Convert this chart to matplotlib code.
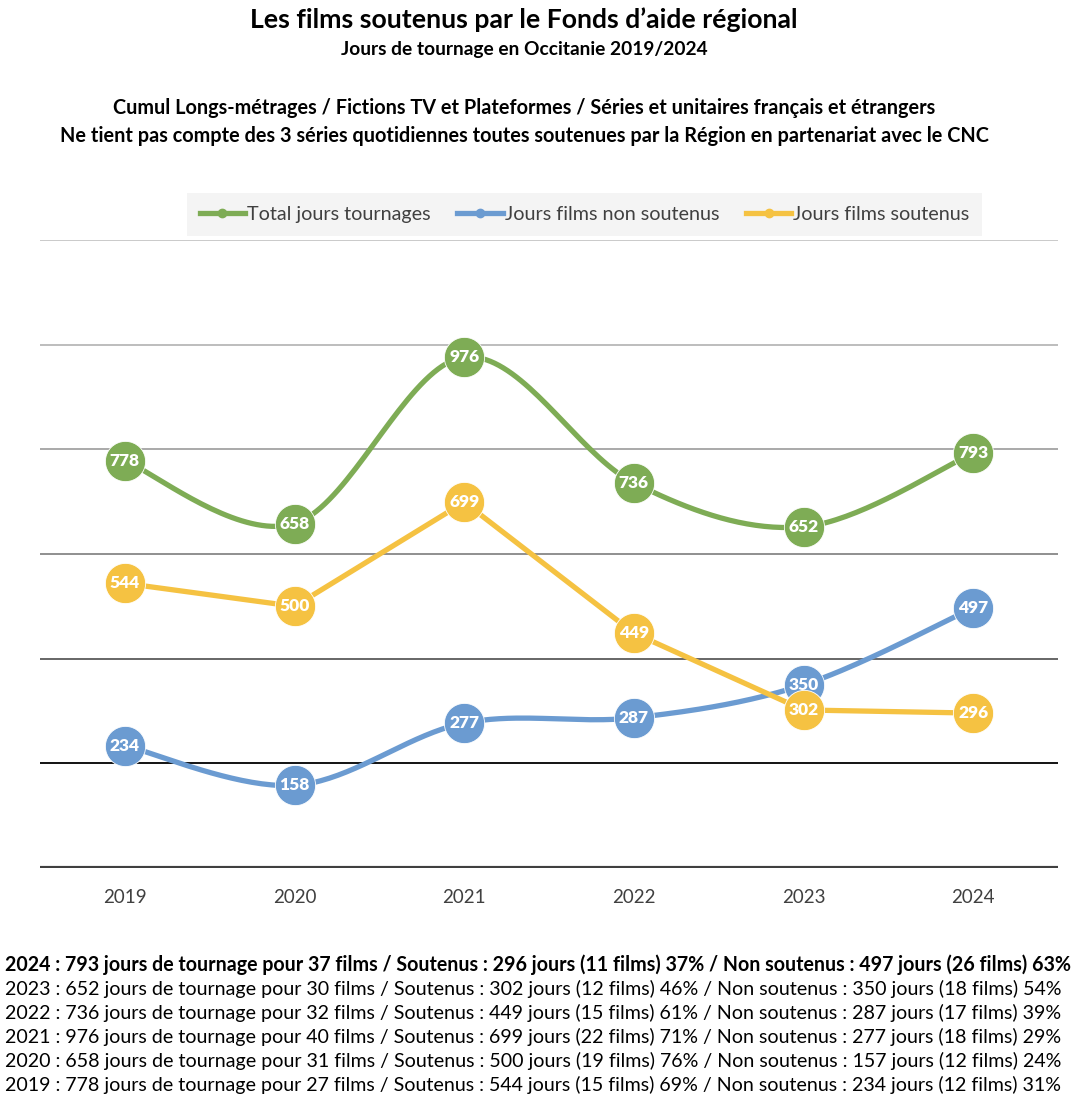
import numpy as np
import matplotlib
matplotlib.use("Agg")
import matplotlib.pyplot as plt
from matplotlib.lines import Line2D

plt.rcParams['font.family'] = ['Lato', 'DejaVu Sans']

years = ['2019', '2020', '2021', '2022', '2023', '2024']
total_jours = [778, 658, 976, 736, 652, 793]
non_soutenus = [234, 158, 277, 287, 350, 497]
soutenus = [544, 500, 699, 449, 302, 296]

titre = "Les films soutenus par le Fonds d\u2019aide régional"
sous_titre = "Jours de tournage en Occitanie 2019/2024"
note1 = "Cumul Longs-métrages / Fictions TV et Plateformes / Séries et unitaires français et étrangers"
note2 = "Ne tient pas compte des 3 séries quotidiennes toutes soutenues par la Région en partenariat avec le CNC"

lignes_bas = [
    "2024 : 793 jours de tournage pour 37 films / Soutenus : 296 jours (11 films) 37% / Non soutenus : 497 jours (26 films) 63%",
    "2023 : 652 jours de tournage pour 30 films / Soutenus : 302 jours (12 films) 46% / Non soutenus : 350 jours (18 films) 54%",
    "2022 : 736 jours de tournage pour 32 films / Soutenus : 449 jours (15 films) 61% / Non soutenus : 287 jours (17 films) 39%",
    "2021 : 976 jours de tournage pour 40 films / Soutenus : 699 jours (22 films) 71% / Non soutenus : 277 jours (18 films) 29%",
    "2020 : 658 jours de tournage pour 31 films / Soutenus : 500 jours (19 films) 76% / Non soutenus : 157 jours (12 films) 24%",
    "2019 : 778 jours de tournage pour 27 films / Soutenus : 544 jours (15 films) 69% / Non soutenus : 234 jours (12 films) 31%",
]

vert = '#7eac55'
bleu = '#6b9bd1'
jaune = '#f5c242'


def lisser(xs, ys, n=40):
    # courbe lissée façon Excel (Catmull-Rom en Bezier)
    pts = np.column_stack([xs, ys]).astype(float)
    p = np.vstack([pts[0], pts, pts[-1]])
    out = []
    t = np.linspace(0, 1, n)[:, None]
    for i in range(1, len(p) - 2):
        p0, p1, p2, p3 = p[i - 1], p[i], p[i + 1], p[i + 2]
        c1 = p1 + (p2 - p0) / 6
        c2 = p2 - (p3 - p1) / 6
        seg = ((1 - t) ** 3) * p1 + 3 * ((1 - t) ** 2) * t * c1 + 3 * (1 - t) * t ** 2 * c2 + t ** 3 * p2
        out.append(seg if i == 1 else seg[1:])
    out = np.vstack(out)
    return out[:, 0], out[:, 1]


W, H = 1086, 1110
fig = plt.figure(figsize=(W / 100, H / 100), dpi=100)
ax = fig.add_axes([40 / W, (H - 868) / H, 1018 / W, 628 / H])

x = np.arange(len(years))

# grille de plus en plus foncée vers le bas
couleurs_grille = {200: '#000000', 400: '#5a5a5a', 600: '#878787', 800: '#a3a3a3', 1000: '#b7b7b7', 1200: '#c6c6c6'}
for v, c in couleurs_grille.items():
    ax.axhline(v, color=c, lw=1.3, zorder=1)
ax.axhline(0, color='#404040', lw=3.0, zorder=2)

series = [(total_jours, vert, True, 'Total jours tournages'),
          (non_soutenus, bleu, True, 'Jours films non soutenus'),
          (soutenus, jaune, False, 'Jours films soutenus')]

z = 3
for vals, col, lisse, nom in series:
    if lisse:
        sx, sy = lisser(x, vals)
    else:
        sx, sy = x, vals
    ax.plot(sx, sy, color=col, lw=3.8, solid_capstyle='round', zorder=z)
    ax.plot(x, vals, 'o', color=col, ms=29, mec='white', mew=0.6, zorder=z + 1)
    for xi, v in zip(x, vals):
        ax.text(xi, v, str(v), color='white', fontsize=12.5, fontweight='heavy',
                ha='center', va='center', zorder=z + 2)
    z += 3

ax.set_xlim(-0.5, 5.5)
ax.set_ylim(0, 1200)
ax.set_xticks(x)
ax.set_xticklabels(years, fontsize=13.5, color='#404040')
ax.tick_params(axis='x', length=0, pad=15)
ax.set_yticks([])
for s in ax.spines.values():
    s.set_visible(False)

poignees = [Line2D([0], [0], color=c, lw=3.8, marker='o', ms=6) for _, c, _, _ in series]
leg = ax.legend(poignees, [s[3] for s in series], loc='lower center', ncol=3,
                bbox_to_anchor=(0.535, 1.0), frameon=True, fancybox=False,
                fontsize=14.2, handlelength=2.3, handletextpad=0.1, columnspacing=1.35,
                borderpad=0.65, labelcolor='#404040', borderaxespad=0.2)
leg.get_frame().set_facecolor('#f2f2f2')
leg.get_frame().set_edgecolor('none')

fig.text(524 / W, 1 - 20 / H, titre, ha='center', va='center', fontsize=19.2, fontweight='bold')
fig.text(524 / W, 1 - 50 / H, sous_titre, ha='center', va='center', fontsize=13.8, fontweight='bold')
fig.text(524 / W, 1 - 108 / H, note1, ha='center', va='center', fontsize=14.3, fontweight='bold')
fig.text(524 / W, 1 - 136 / H, note2, ha='center', va='center', fontsize=14.3, fontweight='bold')

for i, ligne in enumerate(lignes_bas):
    fig.text(5 / W, 1 - (965 + i * 24) / H, ligne, ha='left', va='center', fontsize=14.1,
             fontweight='bold' if i == 0 else 'normal', color='black')

fig.savefig('out.png', dpi=100)
